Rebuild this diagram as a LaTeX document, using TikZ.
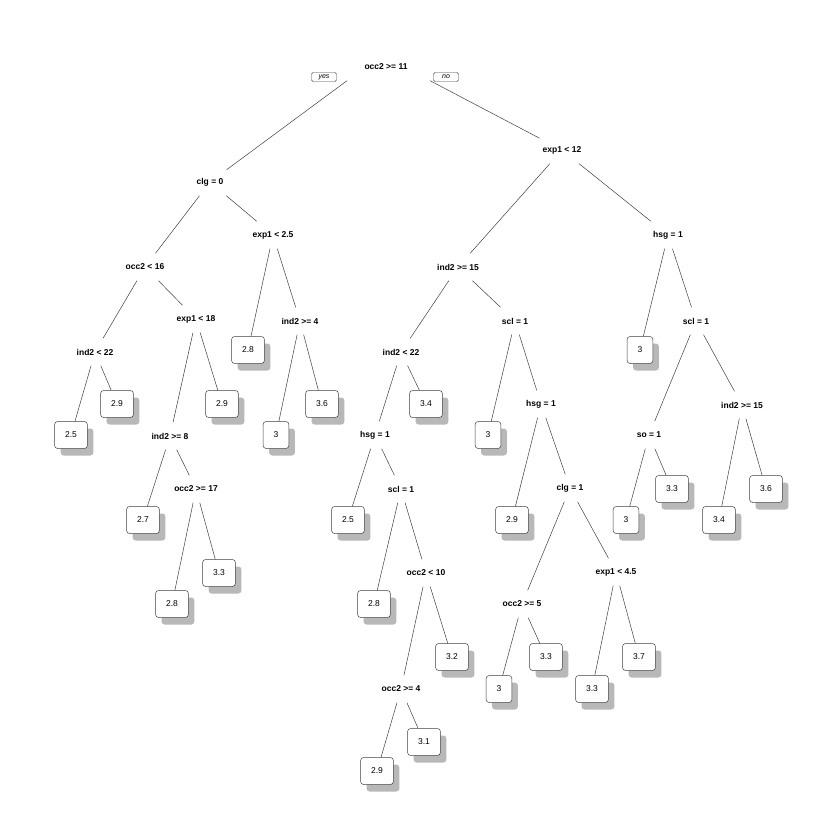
\documentclass[tikz,border=0pt]{standalone}
\usepackage{fontspec}
\setmainfont{Liberation Sans}
\usetikzlibrary{shadows,calc}

\tikzset{
    split/.style={font=\bfseries\fontsize{8.5}{10}\selectfont, inner xsep=3pt, minimum height=27pt},
    leaf/.style={draw=black!75, line width=0.5pt, rounded corners=3pt, fill=white,
        font=\fontsize{8.5}{10}\selectfont, inner xsep=10.5pt, minimum height=27pt,
        drop shadow={shadow xshift=6pt, shadow yshift=-7pt, fill=black!28, opacity=1}},
    yesno/.style={draw=black!75, line width=0.4pt, rounded corners=1.5pt,
        font=\itshape\fontsize{7}{8}\selectfont, inner sep=0.5pt, minimum width=25pt, minimum height=9pt},
    edge/.style={draw=black!75, line width=0.5pt}
}

\begin{document}
\begin{tikzpicture}[x=1pt, y=-1pt]
    \fill[white] (0,0) rectangle (840,840);
    \useasboundingbox (0,0) rectangle (840,840);
    % splits
    \node[split] (n1) at (386,67) {occ2 >= 11};
    \node[yesno] (yes) at (324,77) {yes};
    \node[yesno] (no) at (446,77) {no};
    \node[split] (n2) at (210,182) {clg = 0};
    \node[split] (n3) at (562,150) {exp1 < 12};
    \node[split] (n4) at (145,267) {occ2 < 16};
    \node[split] (n5) at (273,235) {exp1 < 2.5};
    \node[split] (n6) at (458,267) {ind2 >= 15};
    \node[split] (n7) at (668,235) {hsg = 1};
    \node[split] (n8) at (95,352) {ind2 < 22};
    \node[split] (n9) at (196,319) {exp1 < 18};
    \node[split] (n11) at (300,321) {ind2 >= 4};
    \node[split] (n12) at (401,352) {ind2 < 22};
    \node[split] (n13) at (515,321) {scl = 1};
    \node[split] (n15) at (696,321) {scl = 1};
    \node[split] (n18) at (170,436) {ind2 >= 8};
    \node[split] (n24) at (375,435) {hsg = 1};
    \node[split] (n27) at (541,404) {hsg = 1};
    \node[split] (n30) at (649,435) {so = 1};
    \node[split] (n31) at (742,405) {ind2 >= 15};
    \node[split] (n37) at (196,489) {occ2 >= 17};
    \node[split] (n49) at (401,489) {scl = 1};
    \node[split] (n55) at (570,488) {clg = 1};
    \node[split] (n99) at (426,573) {occ2 < 10};
    \node[split] (n110) at (522,604) {occ2 >= 5};
    \node[split] (n111) at (616,572) {exp1 < 4.5};
    \node[split] (n198) at (401,689) {occ2 >= 4};
    % leaves
    \node[leaf] (n16) at (71,435) {2.5};
    \node[leaf] (n17) at (117,404) {2.9};
    \node[leaf] (n36) at (143,520) {2.7};
    \node[leaf] (n74) at (172,604) {2.8};
    \node[leaf] (n75) at (219,573) {3.3};
    \node[leaf] (n19) at (222,404) {2.9};
    \node[leaf] (n10) at (248,350) {2.8};
    \node[leaf] (n22) at (276,435) {3};
    \node[leaf] (n23) at (322,404) {3.6};
    \node[leaf] (n48) at (348,520) {2.5};
    \node[leaf] (n98) at (374,604) {2.8};
    \node[leaf] (n396) at (377,771) {2.9};
    \node[leaf] (n397) at (424,742) {3.1};
    \node[leaf] (n199) at (452,657) {3.2};
    \node[leaf] (n25) at (426,404) {3.4};
    \node[leaf] (n26) at (488,435) {3};
    \node[leaf] (n54) at (512,520) {2.9};
    \node[leaf] (n220) at (499,689) {3};
    \node[leaf] (n221) at (546,657) {3.3};
    \node[leaf] (n222) at (592,689) {3.3};
    \node[leaf] (n223) at (639,657) {3.7};
    \node[leaf] (n14) at (640,350) {3};
    \node[leaf] (n60) at (626,520) {3};
    \node[leaf] (n61) at (672,489) {3.3};
    \node[leaf] (n62) at (719,520) {3.4};
    \node[leaf] (n63) at (766,489) {3.6};
    % branches
    \draw[edge] ($(n1.south)+(-39,0)$) -- (n2);
    \draw[edge] ($(n1.south)+(44,0)$) -- (n3);
    \foreach \p/\c in {n2/n4, n2/n5, n4/n8, n4/n9, n8/n16, n8/n17, n9/n18, n9/n19,
        n18/n36, n18/n37, n37/n74, n37/n75, n5/n10, n5/n11, n11/n22, n11/n23,
        n3/n6, n3/n7, n6/n12, n6/n13, n12/n24, n12/n25, n24/n48, n24/n49,
        n49/n98, n49/n99, n99/n198, n99/n199, n198/n396, n198/n397,
        n13/n26, n13/n27, n27/n54, n27/n55, n55/n110, n55/n111,
        n110/n220, n110/n221, n111/n222, n111/n223,
        n7/n14, n7/n15, n15/n30, n15/n31, n30/n60, n30/n61, n31/n62, n31/n63}
        \draw[edge] (\p) -- (\c);
\end{tikzpicture}
\end{document}
